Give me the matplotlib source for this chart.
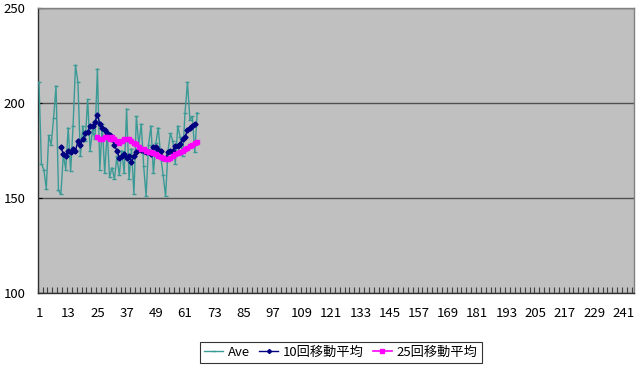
## Imports required libraries.
import numpy as np
import matplotlib
matplotlib.use('Agg')
import matplotlib.pyplot as plt
from matplotlib.ticker import FixedLocator


## Font with Japanese glyphs for the legend, DejaVu as fallback.
plt.rcParams['font.family'] = ['Noto Sans CJK JP', 'DejaVu Sans']


## Data.
n_categories = 245
x_labels     = list(range(1, 242, 12))

ave = [211, 168, 165, 155, 183, 178, 192, 209, 154, 152,
       173, 165, 187, 164, 188, 220, 211, 172, 188, 180,
       202, 175, 186, 181, 218, 165, 189, 163, 185, 161,
       166, 160, 172, 162, 175, 163, 197, 160, 176, 152,
       193, 178, 189, 167, 151, 178, 188, 163, 179, 187,
       172, 162, 151, 175, 184, 180, 168, 188, 182, 172,
       195, 211, 191, 193, 174, 195]

ma10_start = 10
ma10 = [177, 173, 172, 175, 174, 176, 175, 180, 178, 181,
        184, 185, 188, 188, 190, 194, 189, 187, 186, 184,
        183, 181, 178, 175, 171, 172, 173, 171, 172, 169,
        172, 174, 176, 175.5, 175, 174, 174, 173, 177, 177,
        175.5, 175, 171, 171, 174, 175, 175, 177.5, 177.5, 178.5,
        181, 182, 186, 187, 188, 189]

ma25_start = 25
ma25 = [182, 181, 181, 182, 182, 181, 182, 181, 180, 179,
        180, 181, 181, 181, 180, 179, 178.5, 177, 176, 176,
        175, 174.5, 174, 173.5, 173, 172, 171.5, 171, 170.5, 170.5,
        171, 172, 173, 173.5, 174.5, 175, 176, 176.5, 177.5, 178,
        179, 179.5]


## x positions of each series (category index).
x_ave  = np.arange(1, len(ave) + 1)
x_ma10 = np.arange(ma10_start, ma10_start + len(ma10))
x_ma25 = np.arange(ma25_start, ma25_start + len(ma25))


## Figure and plot area.
fig = plt.figure(figsize=(6.4, 3.7), dpi=100)
ax  = fig.add_axes([0.059, 0.208, 0.932, 0.770])
ax.set_facecolor('#C0C0C0')

ax.plot(x_ave, ave, color='#3A9A96', lw=1.0, marker='_', ms=3, mew=1.0,
        label='Ave', zorder=3)
ax.plot(x_ma10, ma10, color='#000080', lw=1.0, marker='D', ms=2.6,
        label='10回移動平均', zorder=4)
ax.plot(x_ma25, ma25, color='#FF00FF', lw=1.2, marker='s', ms=3.2,
        label='25回移動平均', zorder=5)

## Axes limits, ticks and gridlines.
ax.set_xlim(0.5, n_categories + 0.5)
ax.set_ylim(100, 250)
ax.set_yticks([100, 150, 200, 250])
ax.set_xticks(x_labels)
ax.xaxis.set_minor_locator(FixedLocator(np.arange(0.5, n_categories + 1, 2)))
ax.tick_params(axis='x', which='major', length=0, pad=10, labelsize=9.5)
ax.tick_params(axis='x', which='minor', direction='in', length=4,
               width=0.8, color='#404040')
ax.tick_params(axis='y', direction='in', length=3, pad=9, labelsize=9.5)
ax.grid(axis='y', color='#505050', lw=1.0)
ax.set_axisbelow(True)

for side in ['top', 'right']:
    ax.spines[side].set_color('#808080')
    ax.spines[side].set_linewidth(1.0)
for side in ['left', 'bottom']:
    ax.spines[side].set_color('#303030')
    ax.spines[side].set_linewidth(1.0)

## Legend box below the plot area.
leg = fig.legend(loc='center', bbox_to_anchor=(0.533, 0.048), ncol=3,
                 fontsize=9.5, frameon=True, fancybox=False, edgecolor='black',
                 handlelength=1.4, handletextpad=0.4, columnspacing=0.7,
                 borderpad=0.3, markerscale=0.8)
leg.get_frame().set_linewidth(0.8)

plt.savefig('out.png', dpi=100)
